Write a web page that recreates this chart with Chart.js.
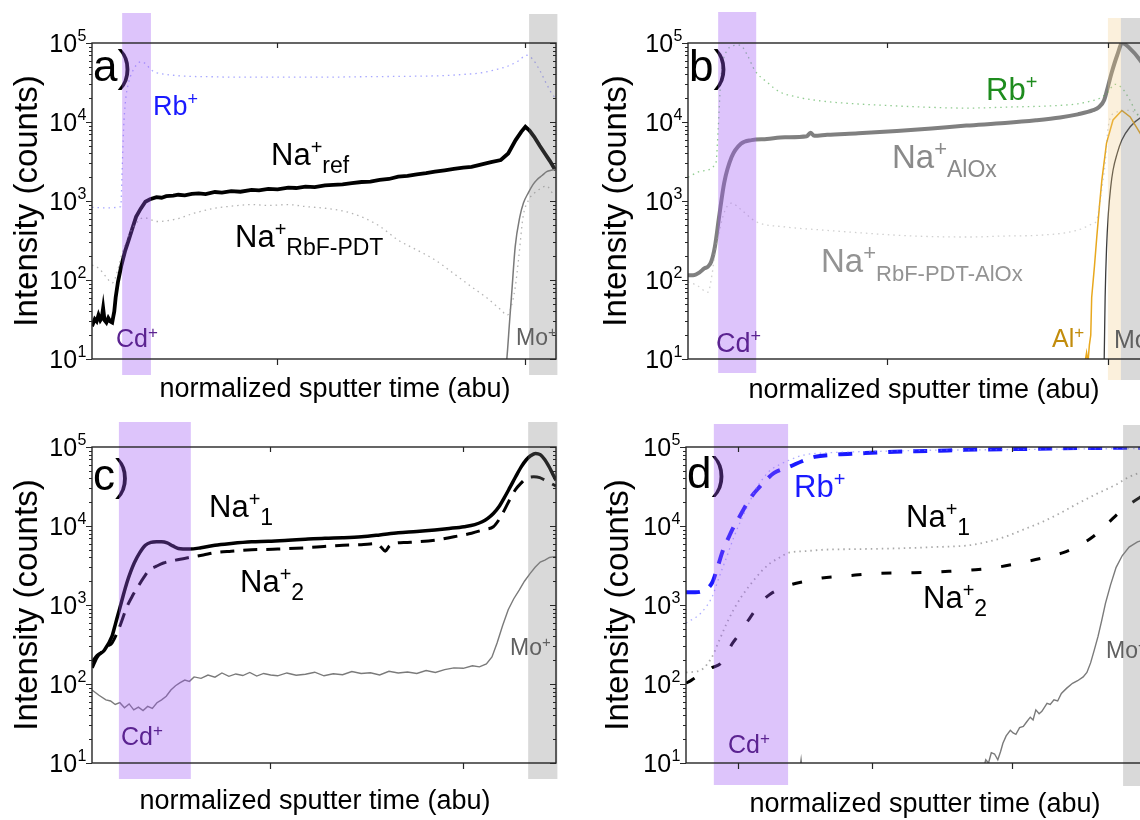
<!DOCTYPE html>
<html>
<head>
<meta charset="utf-8">
<script src="https://cdn.jsdelivr.net/npm/chart.js@4.4.1/dist/chart.umd.min.js"></script>
<style>
  html, body { margin: 0; padding: 0; background: #fff; overflow: hidden; }
  #wrap { position: relative; width: 1140px; height: 820px; overflow: hidden; }
  canvas { position: absolute; }
</style>
</head>
<body>
<div id="wrap">
  <canvas id="pa" width="570" height="410" style="left:0;top:0"></canvas>
  <canvas id="pb" width="600" height="410" style="left:570px;top:0"></canvas>
  <canvas id="pc" width="570" height="410" style="left:0;top:410px"></canvas>
  <canvas id="pd" width="600" height="410" style="left:570px;top:410px"></canvas>
</div>
<script>
// log10 decades shown on every y axis
const yDecades = [1, 2, 3, 4, 5];

// x tick positions (normalized sputter time, 0..100 per panel)
const aTicksX = [39.9, 93.3];
const bTicksX = [42.9, 90.5];
const cTicksX = [38.4, 80];
const dTicksX = [11.2, 40.1, 70.3];

// ---- panel a ----
const aNaRefX = [0, 0.6, 1.0, 1.4, 1.8, 2.1, 2.4, 2.7, 3.1, 3.5, 3.9, 4.35, 4.8, 5.1, 5.6, 6.3, 7.1, 7.9, 8.7, 9.5, 10.5, 11.5, 12.5, 13.9, 15, 16, 17.5, 18.6, 20, 21.5, 23, 24.5, 26.5, 28, 30, 32, 34.4, 36, 38, 40, 42.3, 44, 46, 48, 50.2, 52, 54, 56, 58.1, 60, 62, 64, 66, 68, 70, 72, 73.9, 76, 78, 80, 81.8, 84, 86, 88.1, 89.7, 91.3, 92.5, 93.4, 94.3, 95.3, 96.5, 97.6, 98.7, 99.6, 100];
const aNaRefY = [26, 32, 30, 36, 31, 33, 44, 31, 29, 33, 30, 29, 40, 60, 95, 150, 230, 320, 450, 630, 800, 980, 1050, 1120, 1100, 1150, 1170, 1200, 1180, 1230, 1250, 1220, 1300, 1280, 1330, 1310, 1380, 1360, 1420, 1400, 1480, 1460, 1520, 1500, 1580, 1600, 1620, 1680, 1740, 1760, 1850, 1900, 2040, 2080, 2180, 2250, 2350, 2450, 2550, 2650, 2700, 2900, 3100, 3300, 4000, 5900, 7500, 8700, 7800, 6500, 5000, 4000, 3200, 2600, 2500];
const aRbX = [0, 3, 6.2, 6.5, 6.8, 7.2, 7.8, 8.6, 9.5, 10.5, 11.5, 12.7, 14, 16, 20, 25, 30, 40, 50, 60, 70, 75, 80, 84, 87, 90, 92, 93.6, 95, 96.5, 98, 99.3, 100];
const aRbY = [830, 820, 850, 2500, 8000, 18000, 30000, 42000, 52000, 58000, 55000, 46000, 42000, 40000, 38000, 37500, 37000, 37000, 37000, 37500, 38000, 38500, 40000, 42000, 46000, 52000, 60000, 70000, 62000, 45000, 30000, 22000, 20000];
const aNaRbfX = [0, 1.5, 3, 4.4, 5.5, 6.5, 7.6, 8.6, 9.5, 10.5, 11.5, 12.7, 14, 16, 18.6, 22, 26.5, 30, 34.4, 38, 42.3, 46, 50.2, 54, 58.1, 62, 66, 70, 73.9, 78, 81.8, 85, 88.1, 89.5, 90.3, 91.2, 92, 92.9, 94, 96, 98, 99.4, 100];
const aNaRbfY = [155, 140, 110, 92, 130, 220, 330, 440, 520, 600, 610, 580, 550, 560, 600, 700, 810, 860, 900, 880, 900, 850, 810, 750, 630, 480, 320, 240, 180, 120, 82, 60, 42, 36, 45, 80, 200, 630, 1000, 1350, 1550, 1260, 1300];
const aMoX = [88.8, 89.4, 90, 90.5, 91.2, 92.2, 93, 94, 95, 95.9, 97, 98, 99, 99.8, 100];
const aMoY = [5, 10, 30, 74, 263, 630, 950, 1260, 1600, 1860, 2100, 2350, 2450, 2500, 2500];

// ---- panel b ----
const bNaAlX = [0, 1.1, 2.5, 3.5, 4.3, 5.0, 5.8, 6.7, 7.8, 9.4, 11.4, 13.7, 17, 20.9, 25.6, 26.4, 27.2, 30, 36.7, 45, 52.5, 60, 68.3, 75, 80.2, 84, 87.3, 88.6, 89.7, 90.5, 91.3, 92.5, 93.6, 95, 97.5, 100];
const bNaAlY = [115, 115, 125, 140, 148, 170, 265, 630, 1700, 3600, 5300, 5900, 6100, 6400, 6600, 7300, 6700, 6900, 7200, 7700, 8300, 9000, 9700, 10500, 11400, 12500, 14100, 15500, 19000, 28000, 42000, 70000, 100000, 88000, 60000, 35000];
const bRbX = [0, 3, 6.0, 6.5, 7.0, 7.6, 8.4, 9.5, 11.2, 12.8, 14.4, 17, 19.8, 23, 27, 32.8, 40, 50, 60, 70, 78, 84, 87, 88.8, 90.5, 92, 93.5, 95, 97, 100];
const bRbY = [2000, 2400, 3000, 8000, 30000, 60000, 80000, 92000, 94000, 70000, 45000, 32000, 24000, 21000, 19000, 17500, 16500, 15500, 15000, 15500, 16000, 17000, 18500, 20000, 24000, 30000, 27000, 20000, 12000, 8000];
const bNaRbfX = [0, 2, 4.3, 5.2, 5.8, 6.7, 7.5, 8.4, 9.4, 11.4, 14.6, 20.9, 28.8, 36, 44.6, 52, 60.4, 68, 76.2, 84.1, 87.3, 88.1, 89, 89.9, 90.6, 92, 95, 100];
const bNaRbfY = [95, 85, 70, 120, 220, 400, 630, 850, 940, 780, 550, 470, 430, 400, 370, 355, 350, 360, 370, 430, 520, 570, 1200, 3000, 9000, 13000, 14000, 9000];
const bAlX = [85.4, 85.9, 86.2, 86.5, 86.8, 87.0, 87.6, 88.1, 88.7, 89.2, 90.2, 91.6, 93.5, 95.3, 97.4, 100];
const bAlY = [8, 12, 9, 15, 20, 60, 150, 350, 900, 1850, 5400, 10600, 14000, 11600, 7300, 4000];
const bMoX = [89.6, 89.7, 89.9, 90.2, 90.6, 91.1, 91.6, 92.5, 93.5, 95.3, 97.4, 100];
const bMoY = [5, 10, 60, 250, 700, 1500, 2450, 4000, 5900, 8700, 11200, 12500];

// ---- panel c ----
const cNa1X = [0, 1.1, 2.7, 4.3, 5.1, 5.9, 6.7, 7.5, 8.3, 9.1, 10.3, 11.5, 12.7, 13.9, 15, 16.2, 17.4, 18.6, 21, 23.5, 26.5, 30, 34.4, 38, 42.3, 46, 50.2, 54, 58.1, 62, 66, 70, 73.9, 77, 80.2, 82.5, 84.1, 85.3, 86.5, 87.7, 88.9, 90.1, 91.3, 92.5, 93.6, 94.6, 95.6, 96.6, 97.6, 98.6, 99.6, 100];
const cNa1Y = [160, 220, 270, 400, 590, 870, 1300, 1900, 2600, 3400, 4600, 5700, 6200, 6300, 6300, 6100, 5600, 5200, 5100, 5300, 5700, 6000, 6300, 6400, 6600, 6800, 7000, 7100, 7300, 7700, 8200, 8500, 8900, 9300, 9800, 10400, 11300, 12500, 14400, 17500, 23000, 31000, 42000, 56000, 69000, 78000, 83000, 80000, 69000, 55000, 42000, 38000];
const cNa2X = [0, 1.1, 2.7, 3.3, 4.3, 5.9, 7.5, 8.7, 9.9, 11.1, 12.3, 13.9, 15.4, 18, 21, 24, 26.5, 30, 34.4, 40, 46, 50, 54.1, 58, 61.2, 62.3, 63.2, 64.1, 65, 68, 73.9, 78, 81.8, 84.5, 86.5, 87.7, 88.9, 90.1, 91.3, 92.5, 93.6, 95.2, 96.5, 97.6, 99.6, 100];
const cNa2Y = [190, 230, 270, 300, 330, 520, 940, 1300, 1700, 2200, 2750, 3100, 3400, 3700, 4000, 4300, 4600, 4800, 5000, 5100, 5300, 5500, 5700, 5800, 6000, 5400, 4800, 5600, 6000, 6200, 6600, 7300, 8100, 9000, 9800, 12000, 16000, 22000, 29000, 35000, 40000, 42000, 41000, 38000, 33000, 32000];
const cMoX = [0, 1.5, 3, 4, 5, 6, 7, 8, 9, 10, 11, 12, 13, 14, 15, 16, 17, 18, 19, 20, 21, 22, 23.5, 25, 26.5, 28, 29.5, 31, 32.5, 34, 35.5, 37, 38.5, 40, 42, 44, 46, 48, 50, 52, 54, 56, 58, 60, 62, 64, 66, 68, 70, 72, 74, 76, 78, 80, 82, 83.5, 85, 86.2, 87.3, 88.5, 89.7, 90.9, 92.1, 93.2, 94.4, 95.5, 96.6, 97.6, 98.6, 99.6, 100];
const cMoY = [84, 72, 63, 61, 55, 58, 50, 56, 47, 51, 46, 52, 49, 58, 63, 70, 84, 95, 104, 112, 108, 123, 118, 130, 122, 138, 125, 134, 128, 140, 126, 136, 130, 127, 138, 129, 133, 141, 127, 135, 131, 144, 136, 139, 130, 145, 138, 142, 136, 148, 140, 152, 160, 158, 170, 165, 180, 220, 330, 550, 870, 1200, 1550, 2000, 2500, 3000, 3500, 3700, 4000, 4100, 4100];

// ---- panel d ----
const dRb2X = [0, 2, 3.5, 5.6, 6.8, 8, 9.2, 10.3, 11.5, 12.7, 14.2, 15.8, 17.4, 19, 20.6, 22.2, 25, 27.7, 32, 37.2, 45, 53, 60, 68.8, 76, 84.6, 92, 97.8, 100];
const dRb2Y = [1450, 1450, 1500, 1900, 3000, 5000, 7200, 9800, 13000, 17400, 24000, 31000, 39000, 47000, 52000, 56000, 66000, 75000, 80000, 83000, 87000, 89000, 92000, 94000, 95000, 97000, 97500, 98000, 98000];
const dRb1X = [0, 3.2, 5.6, 7.2, 8.8, 10.3, 11.9, 13.5, 15, 16.6, 18.2, 20.2, 22.2, 25.3, 30, 37, 45, 53, 62, 70, 80, 90, 100];
const dRb1Y = [590, 790, 1260, 2300, 4100, 7200, 12000, 19000, 29000, 40000, 51000, 60000, 68000, 79000, 84000, 87000, 89000, 91000, 92000, 93000, 94000, 95000, 96000];
const dNa1X = [0, 3.2, 5.6, 7.2, 8.8, 10.3, 11.9, 13.5, 15, 16.6, 18.2, 20.2, 22.2, 25.7, 29.3, 37, 45.1, 53, 61, 65, 68.8, 72.7, 76.7, 80.6, 84.6, 88.5, 92.5, 95.6, 97.8, 100];
const dNa1Y = [140, 150, 220, 360, 590, 880, 1260, 1700, 2200, 2800, 3400, 4000, 4600, 4800, 5000, 5100, 5200, 5400, 5700, 6300, 7300, 9000, 11200, 14500, 19500, 25500, 33000, 42000, 47000, 50000];
const dNa2X = [0, 1.2, 2.5, 4, 5.5, 7.6, 8.8, 9.9, 11.1, 12.3, 13.5, 15, 16.6, 18.2, 19.8, 22.2, 25.7, 29.3, 35, 41.1, 47, 53, 58, 62.4, 67, 71.9, 76.6, 81.3, 84.5, 87.7, 90.8, 94, 97.8, 100];
const dNa2Y = [102, 112, 125, 140, 160, 185, 245, 320, 400, 510, 650, 870, 1150, 1380, 1550, 1780, 2000, 2200, 2350, 2500, 2550, 2600, 2700, 2800, 3000, 3400, 3900, 4600, 5600, 7300, 10700, 16000, 23000, 27000];
const dMoX = [24, 24.8, 25.4, 60, 64, 64.6, 65.2, 65.8, 66.5, 67.2, 67.8, 68.3, 69, 69.9, 70.5, 71.1, 71.9, 72.7, 73.4, 74.2, 74.8, 75.4, 76.1, 76.7, 77.8, 78.5, 79.3, 80.1, 80.9, 82, 83.3, 84.4, 85.6, 86.4, 87.2, 88, 88.8, 89.6, 90.4, 91.5, 92.7, 94, 95.5, 97.3, 100];
const dMoY = [5, 11, 5, 5, 8, 11, 10, 13.5, 13, 11, 14, 17.8, 22, 26, 24, 23, 28, 29, 33, 38, 35, 47, 42, 45, 57, 55, 63, 61, 76, 88, 102, 110, 123, 140, 185, 270, 400, 640, 1050, 1800, 3000, 4200, 5400, 6300, 7000];

const FONT = '"Liberation Sans", Arial, Helvetica, sans-serif';
const CD_BAND = 'rgba(157, 86, 243, 0.35)';
const MO_BAND = 'rgba(128, 128, 128, 0.30)';
const AL_BAND = 'rgba(240, 200, 130, 0.28)';
const PURPLE = '#5b2391';

const pts = (xs, ys) => xs.map((x, i) => ({ x: x, y: ys[i] }));

const solid = (xs, ys, color, width, smooth) => ({
  data: pts(xs, ys), borderColor: color, borderWidth: width,
  cubicInterpolationMode: smooth ? 'monotone' : 'default', tension: 0
});
const dashed = (xs, ys, color, width, dash) => ({
  data: pts(xs, ys), borderColor: color, borderWidth: width, borderDash: dash,
  cubicInterpolationMode: 'monotone'
});
const dotted = (xs, ys, color, width) => ({
  data: pts(xs, ys), borderColor: color, borderWidth: width || 1.3, borderDash: [1.5, 4],
  cubicInterpolationMode: 'monotone'
});

// ion label: main text, superscript and optional subscript written in a row
const ion = (x, y, color, size, main, sup, sub, subSize) => ({ x, y, color, runs: [
  { t: main, size: size, dy: 0 },
  { t: sup, size: Math.round(size * 0.66), dy: -Math.round(size * 0.36) },
  ...(sub ? [{ t: sub, size: subSize || Math.round(size * 0.74), dy: Math.round(size * 0.27) }] : [])
] });
const plain = (x, y, color, size, t) => ({ x, y, color, runs: [{ t: t, size: size, dy: 0 }] });

function richText(ctx, item) {
  let cx = item.x;
  ctx.fillStyle = item.color;
  ctx.textBaseline = 'alphabetic';
  ctx.textAlign = 'left';
  item.runs.forEach(r => {
    ctx.font = r.size + 'px ' + FONT;
    ctx.fillText(r.t, cx, item.y + r.dy);
    cx += ctx.measureText(r.t).width;
  });
}

function seg(ctx, x0, y0, x1, y1) {
  ctx.beginPath();
  ctx.moveTo(x0, y0);
  ctx.lineTo(x1, y1);
  ctx.stroke();
}

const decor = {
  id: 'decor',
  afterDatasetsDraw(chart, args, o) {
    const { ctx, chartArea: ca } = chart;
    const xs = chart.scales.x, ys = chart.scales.y;
    ctx.save();

    o.labels.filter(l => l.under).forEach(l => richText(ctx, l));

    // depth regions laid over the traces
    o.bands.forEach(b => {
      const x0 = xs.getPixelForValue(b.from);
      const x1 = xs.getPixelForValue(b.to);
      ctx.fillStyle = b.color;
      ctx.fillRect(x0, ca.top - b.above, x1 - x0, ca.bottom - ca.top + b.above + b.below);
    });

    // frame
    ctx.strokeStyle = '#262626';
    ctx.lineWidth = 1.4;
    ctx.strokeRect(ca.left, ca.top, ca.right - ca.left, ca.bottom - ca.top);

    // log ticks: outward on the left, inward on the right
    ctx.lineWidth = 1;
    yDecades.forEach(e => {
      for (let m = 1; m <= 9; m++) {
        if (e === yDecades[yDecades.length - 1] && m > 1) break;
        const py = Math.round(ys.getPixelForValue(m * Math.pow(10, e))) + 0.5;
        const len = m === 1 ? 6 : 3;
        seg(ctx, ca.left - len, py, ca.left, py);
        seg(ctx, ca.right - len, py, ca.right, py);
      }
    });
    // x ticks: out at the bottom, in at the top
    ctx.lineWidth = 1.2;
    o.ticksX.forEach(v => {
      const px = Math.round(xs.getPixelForValue(v)) + 0.5;
      seg(ctx, px, ca.bottom, px, ca.bottom + 6);
      seg(ctx, px, ca.top, px, ca.top + 5);
    });

    // y tick labels 10^n
    ctx.fillStyle = '#000';
    yDecades.forEach(e => {
      const py = ys.getPixelForValue(Math.pow(10, e));
      ctx.font = '25px ' + FONT;
      const w10 = ctx.measureText('10').width;
      ctx.font = '16px ' + FONT;
      const wE = ctx.measureText(String(e)).width;
      const x0 = ca.left - 6 - w10 - wE;
      ctx.font = '25px ' + FONT;
      ctx.fillText('10', x0, py + 9);
      ctx.font = '16px ' + FONT;
      ctx.fillText(String(e), x0 + w10 + 0.5, py - 2);
    });

    // axis titles
    ctx.font = '33px ' + FONT;
    ctx.textAlign = 'center';
    ctx.save();
    ctx.translate(o.yTitleX, (ca.top + ca.bottom) / 2);
    ctx.rotate(-Math.PI / 2);
    ctx.fillText('Intensity (counts)', 0, 0);
    ctx.restore();
    ctx.font = '27px ' + FONT;
    ctx.fillText('normalized sputter time (abu)', o.xTitle[0], o.xTitle[1]);

    o.labels.filter(l => !l.under).forEach(l => richText(ctx, l));
    ctx.restore();
  }
};

function makePanel(id, pad, datasets, deco) {
  return new Chart(document.getElementById(id), {
    type: 'line',
    data: { datasets: datasets },
    options: {
      responsive: false,
      animation: false,
      devicePixelRatio: 1,
      layout: { padding: pad },
      elements: { point: { radius: 0 } },
      scales: {
        x: { type: 'linear', min: 0, max: 100, display: false },
        y: { type: 'logarithmic', min: 10, max: 100000, display: false }
      },
      plugins: { legend: { display: false }, tooltip: { enabled: false }, decor: deco }
    },
    plugins: [decor]
  });
}

// a) reference absorber with the RbF-PDT sample
makePanel('pa', { left: 92, top: 43, right: 14, bottom: 51 }, [
  dotted(aRbX, aRbY, 'rgba(110, 110, 255, 0.6)'),
  dotted(aNaRbfX, aNaRbfY, 'rgba(140, 140, 140, 0.65)'),
  solid(aMoX, aMoY, '#7a7a7a', 1.5, true),
  solid(aNaRefX, aNaRefY, '#000', 3.8, false)
], {
  ticksX: aTicksX,
  bands: [
    { from: 6.5, to: 12.7, color: CD_BAND, above: 30, below: 16 },
    { from: 94.2, to: 100.3, color: MO_BAND, above: 29, below: 16 }
  ],
  yTitleX: 37, xTitle: [335, 397],
  labels: [
    Object.assign(plain(93, 81, '#000', 44, 'a)'), { under: true }),
    ion(153, 115, '#1a1aff', 27, 'Rb', '+'),
    ion(271, 165, '#000', 31, 'Na', '+', 'ref', 23),
    ion(235, 247, '#000', 31, 'Na', '+', 'RbF-PDT', 23),
    ion(116, 347, PURPLE, 25, 'Cd', '+'),
    ion(516, 345, '#606060', 23, 'Mo', '+')
  ]
});

// b) AlOx-capped sample
makePanel('pb', { left: 118, top: 43, right: 18, bottom: 51 }, [
  dotted(bRbX, bRbY, 'rgba(70, 170, 70, 0.6)'),
  dotted(bNaRbfX, bNaRbfY, 'rgba(170, 170, 170, 0.55)'),
  solid(bAlX, bAlY, '#e8a81e', 1.5, false),
  solid(bMoX, bMoY, '#3c3c3c', 1.3, true),
  solid(bNaAlX, bNaAlY, '#808080', 4, true)
], {
  ticksX: bTicksX,
  bands: [
    { from: 6.5, to: 14.7, color: CD_BAND, above: 31, below: 14 },
    { from: 90.5, to: 93.3, color: AL_BAND, above: 25, below: 21 },
    { from: 93.3, to: 110, color: MO_BAND, above: 25, below: 21 }
  ],
  yTitleX: 56, xTitle: [354, 398],
  labels: [
    Object.assign(plain(119, 81, '#000', 44, 'b)'), { under: true }),
    ion(416, 100, '#1e8c1e', 31, 'Rb', '+'),
    ion(322, 168, '#8a8a8a', 33, 'Na', '+', 'AlOx', 23),
    ion(251, 272, '#939393', 33, 'Na', '+', 'RbF-PDT-AlOx', 22),
    ion(146, 352, PURPLE, 27, 'Cd', '+'),
    ion(482, 347, '#c28c0c', 25, 'Al', '+'),
    ion(544, 348, '#606060', 25, 'Mo', '+')
  ]
});

// c) two reference absorbers
makePanel('pc', { left: 92, top: 37, right: 14, bottom: 57 }, [
  solid(cMoX, cMoY, '#7a7a7a', 1.4, false),
  dashed(cNa2X, cNa2Y, '#000', 3, [14, 9]),
  solid(cNa1X, cNa1Y, '#000', 3.5, true)
], {
  ticksX: cTicksX,
  bands: [
    { from: 5.8, to: 21.3, color: CD_BAND, above: 25, below: 16 },
    { from: 94, to: 100.3, color: MO_BAND, above: 25, below: 16 }
  ],
  yTitleX: 37, xTitle: [315, 399],
  labels: [
    Object.assign(plain(93, 80, '#000', 44, 'c)'), { under: true }),
    ion(209, 107, '#000', 31, 'Na', '+', '1', 23),
    ion(240, 182, '#000', 31, 'Na', '+', '2', 23),
    ion(510, 245, '#606060', 23, 'Mo', '+'),
    ion(121, 335, PURPLE, 25, 'Cd', '+')
  ]
});

// d) two RbF-PDT absorbers
makePanel('pd', { left: 116, top: 37, right: 20, bottom: 57 }, [
  dotted(dRb1X, dRb1Y, 'rgba(120, 120, 255, 0.6)'),
  dotted(dNa1X, dNa1Y, 'rgba(140, 140, 140, 0.75)', 1.8),
  solid(dMoX, dMoY, '#7a7a7a', 1.4, false),
  dashed(dNa2X, dNa2Y, '#000', 3, [10, 20]),
  dashed(dRb2X, dRb2Y, '#1a1aff', 4, [14, 11])
], {
  ticksX: dTicksX,
  bands: [
    { from: 6.0, to: 22.0, color: CD_BAND, above: 23, below: 22 },
    { from: 94.2, to: 110, color: MO_BAND, above: 22, below: 23 }
  ],
  yTitleX: 58, xTitle: [355, 402],
  labels: [
    Object.assign(plain(117, 78, '#000', 44, 'd)'), { under: true }),
    ion(224, 87, '#1a1aff', 31, 'Rb', '+'),
    ion(336, 117, '#000', 31, 'Na', '+', '1', 23),
    ion(353, 198, '#000', 31, 'Na', '+', '2', 23),
    ion(158, 343, PURPLE, 25, 'Cd', '+'),
    ion(536, 248, '#606060', 23, 'Mo', '+')
  ]
});
</script>
</body>
</html>
